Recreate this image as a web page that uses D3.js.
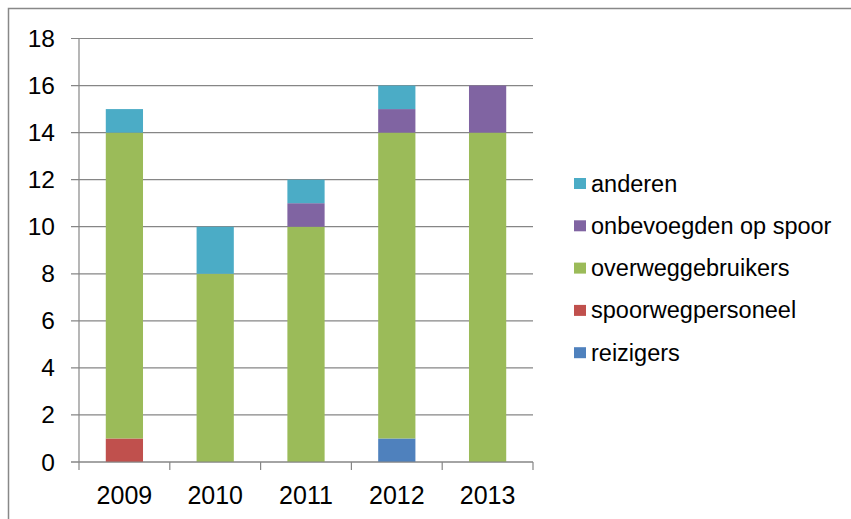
<!DOCTYPE html>
<html>
<head>
<meta charset="utf-8">
<script src="https://cdn.jsdelivr.net/npm/d3@7"></script>
<style>
  body { margin: 0; background: #fff; }
  text { font-family: "Liberation Sans", Arial, sans-serif; fill: #000; }
</style>
</head>
<body>
<script>
// data
const years = ["2009", "2010", "2011", "2012", "2013"]
const series = ["reizigers", "spoorwegpersoneel", "overweggebruikers", "onbevoegden op spoor", "anderen"]
const colors = ["#4F81BD", "#C0504D", "#9BBB59", "#8064A2", "#4BACC6"]
const reizigers = [0, 0, 0, 1, 0]
const spoorwegpersoneel = [1, 0, 0, 0, 0]
const overweggebruikers = [13, 8, 10, 13, 14]
const onbevoegden = [0, 0, 1, 1, 2]
const anderen = [1, 2, 1, 1, 0]
const yTicks = [0, 2, 4, 6, 8, 10, 12, 14, 16, 18]

const values = [reizigers, spoorwegpersoneel, overweggebruikers, onbevoegden, anderen]
const table = years.map((y, i) => {
    const row = { year: y }
    series.forEach((s, j) => row[s] = values[j][i])
    return row
})

const svg = d3.select("body").append("svg")
    .attr("width", 851)
    .attr("height", 519)

// outer frame (runs off the right and bottom edge)
svg.append("rect")
    .attr("x", 8.5).attr("y", 8.5)
    .attr("width", 860).attr("height", 530)
    .attr("fill", "none")
    .attr("stroke", "#888")
    .attr("stroke-width", 1.5)

const plotL = 79, plotR = 533, plotT = 38.5, plotB = 462

const x = d3.scaleBand().domain(years).range([plotL, plotR]).paddingInner(0.59).paddingOuter(0.295)
const y = d3.scaleLinear().domain([0, 18]).range([plotB, plotT])

// gridlines
svg.append("g")
    .selectAll("line")
    .data(yTicks)
    .enter()
    .append("line")
    .attr("x1", plotL - 8).attr("x2", plotR)
    .attr("y1", d => y(d)).attr("y2", d => y(d))
    .attr("stroke", "#868686")
    .attr("stroke-width", 1.2)

// bars
const stack = d3.stack().keys(series)(table)
svg.append("g")
    .selectAll("g")
    .data(stack)
    .enter()
    .append("g")
    .attr("fill", (d, i) => colors[i])
    .selectAll("rect")
    .data(d => d.filter(p => p[1] > p[0]))
    .enter()
    .append("rect")
    .attr("x", d => x(d.data.year))
    .attr("width", x.bandwidth())
    .attr("y", d => y(d[1]))
    .attr("height", d => y(d[0]) - y(d[1]))

// y axis
svg.append("line")
    .attr("x1", plotL).attr("x2", plotL)
    .attr("y1", plotT).attr("y2", plotB)
    .attr("stroke", "#868686").attr("stroke-width", 1.2)

svg.append("g")
    .selectAll("text")
    .data(yTicks)
    .enter()
    .append("text")
    .attr("x", 55)
    .attr("y", d => y(d) + 8.5)
    .attr("text-anchor", "end")
    .style("font-size", "24.5px")
    .text(d => d)

// x axis
const xEdges = years.map(yr => x(yr) - x.step() * x.paddingInner() / 2).concat([plotR])
svg.append("line")
    .attr("x1", plotL - 8).attr("x2", plotR)
    .attr("y1", plotB).attr("y2", plotB)
    .attr("stroke", "#868686").attr("stroke-width", 1.2)
svg.append("g")
    .selectAll("line")
    .data(xEdges)
    .enter()
    .append("line")
    .attr("x1", d => d).attr("x2", d => d)
    .attr("y1", plotB).attr("y2", plotB + 8)
    .attr("stroke", "#868686").attr("stroke-width", 1.2)

svg.append("g")
    .selectAll("text")
    .data(years)
    .enter()
    .append("text")
    .attr("x", d => x(d) + x.bandwidth() / 2)
    .attr("y", 504)
    .attr("text-anchor", "middle")
    .style("font-size", "25px")
    .text(d => d)

// legend, top entry is the last series
const legend = svg.append("g")
    .selectAll("g")
    .data(series.slice().reverse())
    .enter()
    .append("g")
    .attr("transform", (d, i) => `translate(574, ${183.5 + i * 42.3})`)

legend.append("rect")
    .attr("x", 0).attr("y", -5.5)
    .attr("width", 12).attr("height", 11)
    .attr("fill", d => colors[series.indexOf(d)])

legend.append("text")
    .attr("x", 17)
    .attr("y", 8)
    .style("font-size", "23.5px")
    .text(d => d)
</script>
</body>
</html>
